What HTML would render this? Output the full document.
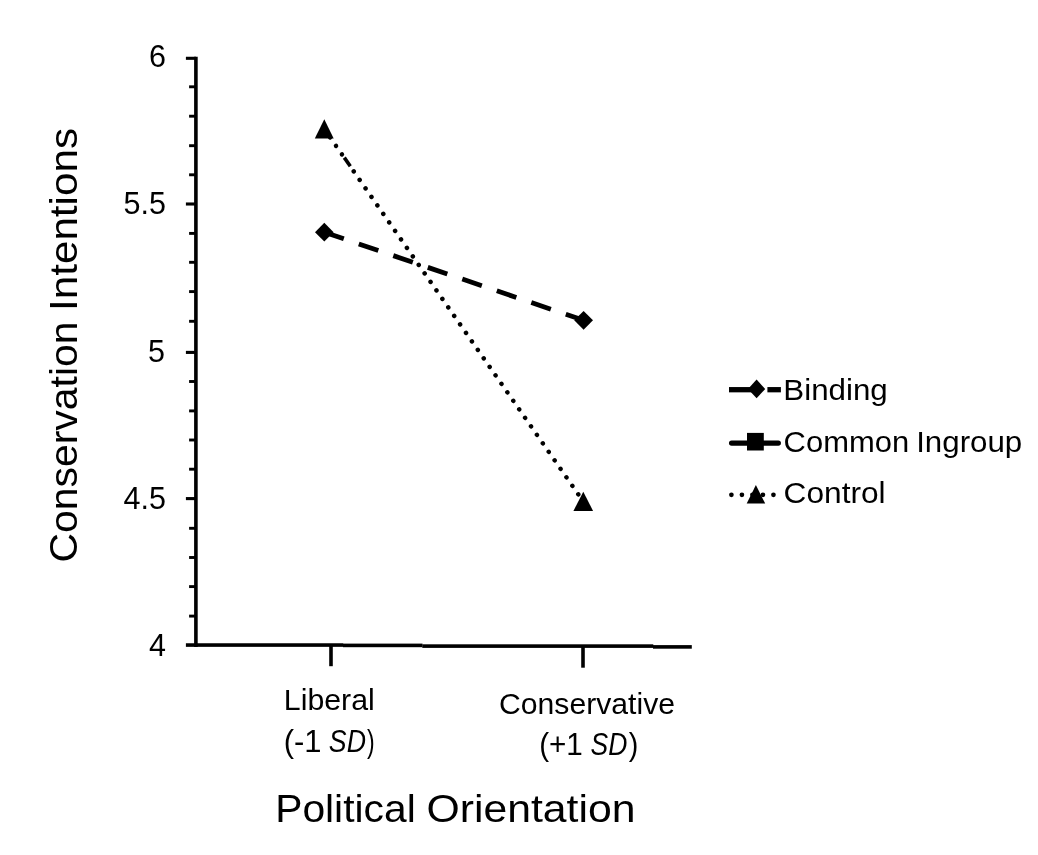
<!DOCTYPE html>
<html lang="en">
<head>
<meta charset="utf-8">
<title>Conservation Intentions by Political Orientation</title>
<style>
  html, body { margin: 0; padding: 0; background: #ffffff; }
  body { width: 1038px; height: 855px; overflow: hidden; }
  svg { display: block; }
  text { font-family: "Liberation Sans", sans-serif; fill: #000000; }
  .axis { stroke: #000; stroke-width: 3.6; fill: none; stroke-linecap: butt; }
  .tick { stroke: #000; stroke-width: 3.1; fill: none; }
  .mtick { stroke: #000; stroke-width: 2.9; fill: none; }
  .ylab { font-size: 30.5px; text-anchor: end; }
  .leg { font-size: 30px; }
  .title { font-size: 38.7px; }
</style>
</head>
<body>
<svg width="1038" height="855" viewBox="0 0 1038 855">
  <rect x="0" y="0" width="1038" height="855" fill="#ffffff"/>

  <!-- axes -->
  <line class="axis" x1="195.9" y1="56.7" x2="195.9" y2="646.9"/>
  <g fill="#000">
    <rect x="185.9" y="643.25" width="157.3" height="3.6"/>
    <rect x="343" y="643.6" width="79.5" height="3.6"/>
    <rect x="422.3" y="644.3" width="231" height="3.6"/>
    <rect x="653" y="645.1" width="38.8" height="3.6"/>
  </g>

  <!-- y major ticks -->
  <g class="tick">
    <line x1="185.9" y1="58.3" x2="196" y2="58.3"/>
    <line x1="185.9" y1="204.0" x2="196" y2="204.0"/>
    <line x1="185.9" y1="352.4" x2="196" y2="352.4"/>
    <line x1="185.9" y1="498.6" x2="196" y2="498.6"/>
  </g>
  <!-- y minor ticks -->
  <g class="mtick">
    <line x1="189.1" y1="86.8" x2="196" y2="86.8"/>
    <line x1="189.1" y1="116.2" x2="196" y2="116.2"/>
    <line x1="189.1" y1="145.7" x2="196" y2="145.7"/>
    <line x1="189.1" y1="174.8" x2="196" y2="174.8"/>
    <line x1="189.1" y1="233.4" x2="196" y2="233.4"/>
    <line x1="189.1" y1="262.3" x2="196" y2="262.3"/>
    <line x1="189.1" y1="291.6" x2="196" y2="291.6"/>
    <line x1="189.1" y1="321.3" x2="196" y2="321.3"/>
    <line x1="189.1" y1="381.5" x2="196" y2="381.5"/>
    <line x1="189.1" y1="410.9" x2="196" y2="410.9"/>
    <line x1="189.1" y1="440.0" x2="196" y2="440.0"/>
    <line x1="189.1" y1="469.2" x2="196" y2="469.2"/>
    <line x1="189.1" y1="528.3" x2="196" y2="528.3"/>
    <line x1="189.1" y1="557.5" x2="196" y2="557.5"/>
    <line x1="189.1" y1="586.6" x2="196" y2="586.6"/>
    <line x1="189.1" y1="616.1" x2="196" y2="616.1"/>
  </g>
  <!-- x ticks -->
  <g class="axis">
    <line x1="331" y1="645" x2="331" y2="666.2"/>
    <line x1="583" y1="646" x2="583" y2="667.7"/>
  </g>

  <!-- y tick labels -->
  <g class="ylab">
    <text x="166" y="67.2">6</text>
    <text x="166" y="214.3">5.5</text>
    <text x="165" y="361.7">5</text>
    <text x="166" y="508.7">4.5</text>
    <text x="166" y="655.7">4</text>
  </g>

  <!-- series: Control (round dot) -->
  <g stroke="#000" stroke-width="4.5" stroke-linecap="round" stroke-dasharray="0.01 10.34">
    <line x1="324.2" y1="128.9" x2="344.87" y2="158.62"/>
    <line x1="353.74" y1="171.39" x2="583.2" y2="501.4"/>
  </g>
  <line x1="344.3" y1="157.6" x2="350.3" y2="166.2" stroke="#000" stroke-width="3.6"/>
  <!-- series: Binding (dash) -->
  <line x1="324.3" y1="232.2" x2="583.6" y2="320.3" stroke="#000" stroke-width="4.8" stroke-dasharray="20.6 15.84"/>

  <!-- markers -->
  <polygon points="324.3,119.2 333.7,138.6 314.8,138.6" fill="#000"/>
  <polygon points="583.3,491.7 593.1,511 573.4,511" fill="#000"/>
  <polygon points="324.3,222.8 333.6,232.2 324.3,241.6 315,232.2" fill="#000"/>
  <polygon points="583.6,310.9 593,320.3 583.6,329.7 574.2,320.3" fill="#000"/>

  <!-- legend -->
  <g>
    <line x1="729" y1="389.7" x2="752" y2="389.7" stroke="#000" stroke-width="5.3"/>
    <line x1="767.4" y1="389.7" x2="780.9" y2="389.7" stroke="#000" stroke-width="5.3"/>
    <polygon points="756.6,379.6 765.2,389 756.6,398.3 748,389" fill="#000"/>
    <text class="leg" x="783.3" y="400.1" textLength="104.5" lengthAdjust="spacingAndGlyphs">Binding</text>

    <line x1="731.6" y1="443.1" x2="778.3" y2="443.1" stroke="#000" stroke-width="5.3" stroke-linecap="round"/>
    <rect x="747" y="432.9" width="16.8" height="17.6" fill="#000"/>
    <text class="leg" x="783.6" y="451.8"><tspan x="783.6" textLength="125.5" lengthAdjust="spacingAndGlyphs">Common</tspan> <tspan x="916.2" textLength="106" lengthAdjust="spacingAndGlyphs">Ingroup</tspan></text>

    <line x1="731.4" y1="494.8" x2="780" y2="494.8" stroke="#000" stroke-width="4.7" stroke-linecap="round" stroke-dasharray="0.01 10.5"/>
    <polygon points="755.9,484.9 765.2,503.6 746.7,503.6" fill="#000"/>
    <text class="leg" x="783.6" y="503.3" textLength="102" lengthAdjust="spacingAndGlyphs">Control</text>
  </g>

  <!-- category labels -->
  <g>
    <text x="283.8" y="710.2" font-size="29.2" textLength="91" lengthAdjust="spacingAndGlyphs">Liberal</text>
    <text y="751.6" font-size="31"><tspan x="283.68" textLength="37.83" lengthAdjust="spacingAndGlyphs">(-1</tspan><tspan> </tspan><tspan x="328.84" textLength="37.12" lengthAdjust="spacingAndGlyphs" font-style="italic">SD</tspan><tspan x="367.07" textLength="7.66" lengthAdjust="spacingAndGlyphs">)</tspan></text>
    <text x="499" y="713.8" font-size="30" textLength="176" lengthAdjust="spacingAndGlyphs">Conservative</text>
    <text y="755.4" font-size="31"><tspan x="539.16" textLength="43.69" lengthAdjust="spacingAndGlyphs">(+1</tspan><tspan> </tspan><tspan x="590.55" textLength="36.80" lengthAdjust="spacingAndGlyphs" font-style="italic">SD</tspan><tspan x="628.63" textLength="9.55" lengthAdjust="spacingAndGlyphs">)</tspan></text>
  </g>

  <!-- axis titles -->
  <text class="title" y="822.2"><tspan x="275.2" textLength="140.5" lengthAdjust="spacingAndGlyphs">Political</tspan> <tspan x="426.5" textLength="209" lengthAdjust="spacingAndGlyphs">Orientation</tspan></text>
  <text class="title" transform="translate(77,0) rotate(-90)" y="0"><tspan x="-562.5" textLength="241" lengthAdjust="spacingAndGlyphs">Conservation</tspan> <tspan x="-311" textLength="183" lengthAdjust="spacingAndGlyphs">Intentions</tspan></text>
</svg>
</body>
</html>
